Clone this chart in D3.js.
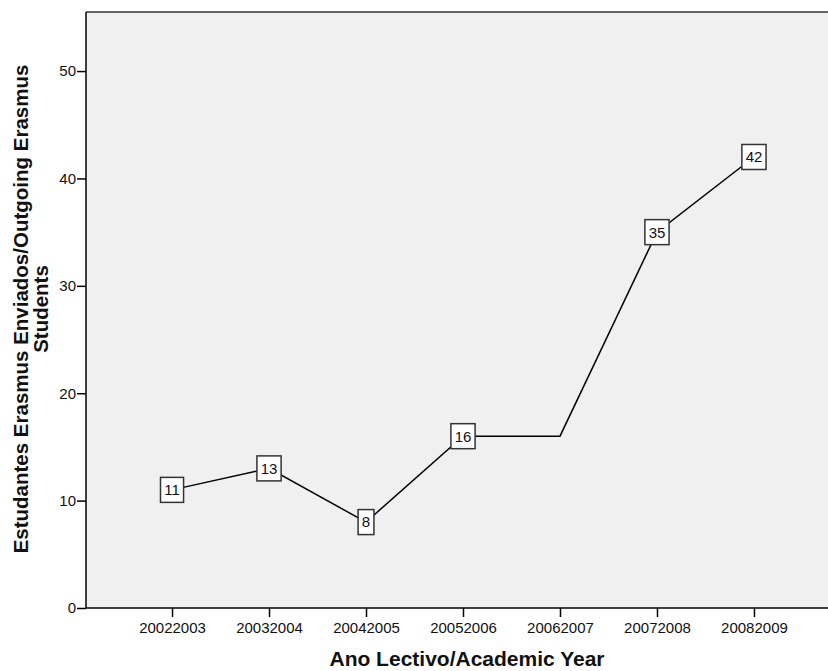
<!DOCTYPE html>
<html><head><meta charset="utf-8">
<script src="https://cdn.jsdelivr.net/npm/d3@7"></script>
<style>body{margin:0;background:#fff}svg{display:block}</style>
</head><body>
<svg id="c" width="828" height="671"></svg>
<script>
const categories = ["20022003","20032004","20042005","20052006","20062007","20072008","20082009"];
const values = [11, 13, 8, 16, 16, 35, 42];
const showLabel = [true, true, true, true, false, true, true];
const yTicks = [0, 10, 20, 30, 40, 50];
const xTitle = "Ano Lectivo/Academic Year";
const yTitleLines = ["Estudantes Erasmus Enviados/Outgoing Erasmus", "Students"];

(function () {
const svg = d3.select("#c");
const pL = 86, pT = 12, pB = 608, pR = 840;
const font = "'Liberation Sans', Arial, sans-serif";

const x = d3.scalePoint().domain(categories).range([pL, pR]).padding(0.887);
const y = d3.scaleLinear().domain([0, 55.5]).range([pB, pT]);

svg.append("rect").attr("x", pL).attr("y", pT).attr("width", pR - pL).attr("height", pB - pT)
  .attr("fill", "#f0f0f0");
svg.append("line").attr("x1", pL).attr("x2", pR).attr("y1", pT).attr("y2", pT).attr("stroke", "#333").attr("stroke-width", 1.5);

const yAxis = svg.append("g").attr("transform", `translate(${pL},0)`)
  .call(d3.axisLeft(y).tickValues(yTicks).tickSize(9).tickPadding(1).tickFormat(d3.format("d")));
const xAxis = svg.append("g").attr("transform", `translate(0,${pB})`)
  .call(d3.axisBottom(x).tickSize(9).tickPadding(5));
[yAxis, xAxis].forEach(a => {
  a.select(".domain").attr("stroke", "#000").attr("stroke-width", 1.5);
  a.selectAll(".tick line").attr("stroke", "#000").attr("stroke-width", 1.5);
  a.selectAll("text").attr("font-family", font).attr("font-size", 15).attr("fill", "#111");
});
yAxis.select(".domain").attr("d", `M0,${pB}V${pT}`);
xAxis.select(".domain").attr("d", `M${pL},0H${pR}`);

const line = d3.line().x((d, i) => x(categories[i])).y(d => y(d));
svg.append("path").datum(values).attr("d", line).attr("fill", "none").attr("stroke", "#000").attr("stroke-width", 1.5);

const lab = svg.append("g");
values.forEach((v, i) => {
  if (!showLabel[i]) return;
  const cx = x(categories[i]), cy = y(v);
  const g = lab.append("g");
  const t = g.append("text").attr("x", cx).attr("y", cy).attr("text-anchor", "middle").attr("dy", "0.36em")
    .attr("font-family", font).attr("font-size", 15).attr("fill", "#111").text(v);
  const w = t.node().getComputedTextLength() + 7.5;
  g.insert("rect", "text").attr("x", cx - w / 2).attr("y", cy - 12.5).attr("width", w).attr("height", 25)
    .attr("fill", "#fff").attr("stroke", "#333").attr("stroke-width", 1.5);
});

svg.append("text").attr("x", 467).attr("y", 666).attr("text-anchor", "middle")
  .attr("font-family", font).attr("font-weight", "bold").attr("font-size", 21).attr("fill", "#111").text(xTitle);

const yt = svg.append("text").attr("transform", `translate(28,309) rotate(-90)`)
  .attr("text-anchor", "middle").attr("font-family", font).attr("font-weight", "bold").attr("font-size", 20.5).attr("fill", "#111");
yTitleLines.forEach((s, i) => yt.append("tspan").attr("x", 0).attr("dy", i === 0 ? 0 : 19.5).text(s));
})();
</script>
</body></html>
